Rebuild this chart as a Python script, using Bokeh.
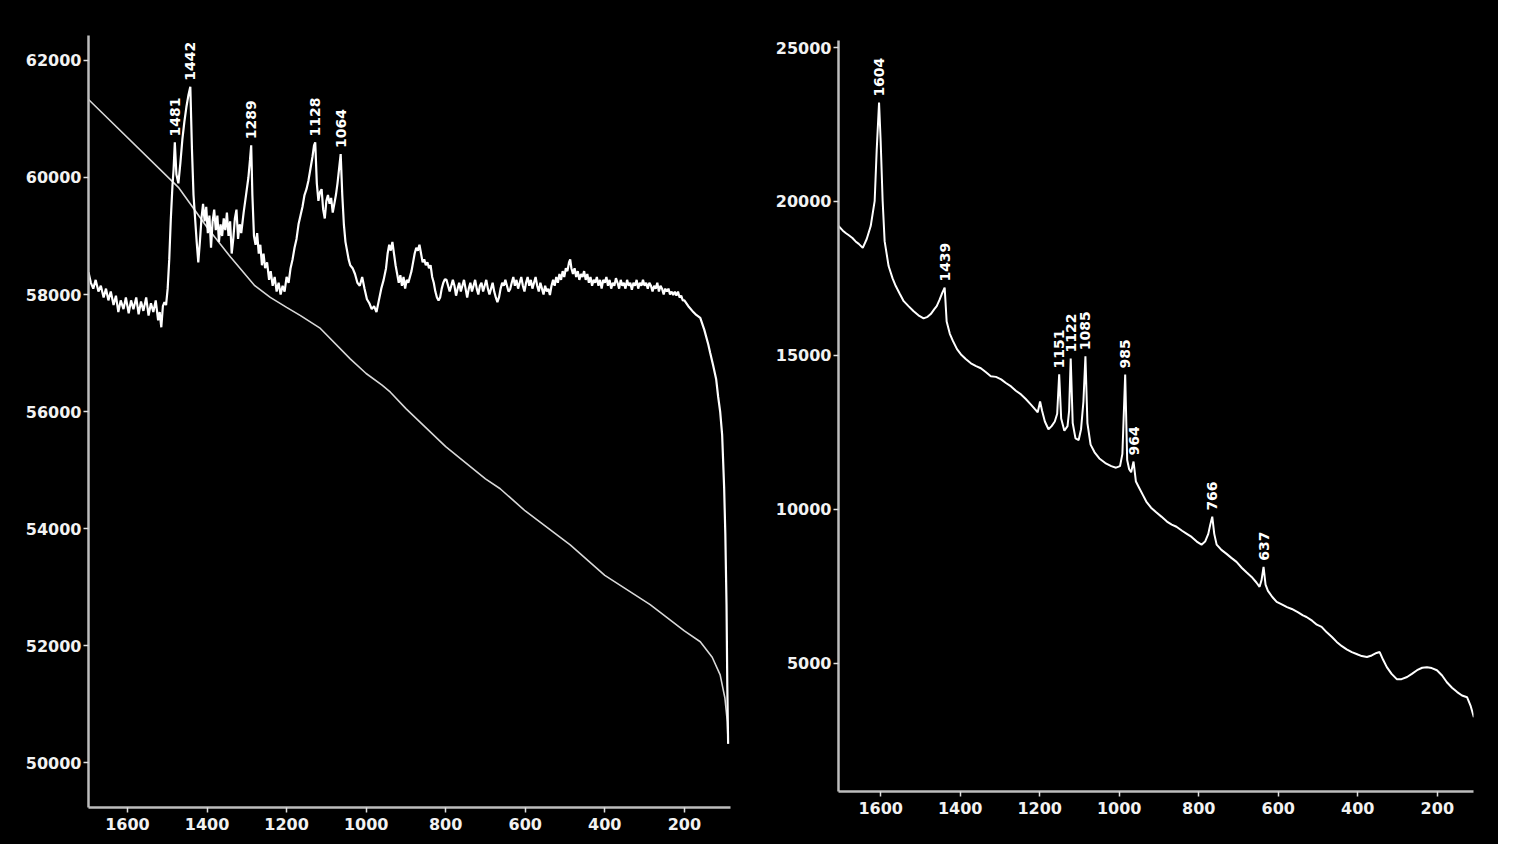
import math
from bokeh.plotting import figure
from bokeh.models import Range1d, FixedTicker, ColumnDataSource
from bokeh.layouts import row
from bokeh.embed import file_html
from bokeh.resources import INLINE
from bokeh.core.properties import value

# ---------------- data: left spectrum ----------------
left_x_ticks = [1600, 1400, 1200, 1000, 800, 600, 400, 200]
left_x_labels = ["1600", "1400", "1200", "1000", "800", "600", "400", "200"]
left_y_ticks = [50000, 52000, 54000, 56000, 58000, 60000, 62000]
left_y_labels = ["50000", "52000", "54000", "56000", "58000", "60000", "62000"]

left_wn = [1698, 1692, 1686, 1680, 1673, 1667, 1660, 1654, 1648, 1642, 1635, 1629, 1623, 1617, 1610, 1604,
           1597, 1591, 1585, 1578, 1572, 1566, 1560, 1553, 1547, 1541, 1535, 1529, 1523, 1519, 1515, 1511,
           1507, 1503, 1499, 1495, 1491, 1487, 1484, 1481, 1477, 1472, 1467, 1462, 1457, 1452, 1447, 1442,
           1438, 1434, 1430, 1426, 1422, 1418, 1414, 1410, 1406, 1402, 1398, 1394, 1390, 1386, 1382, 1378,
           1374, 1370, 1366, 1362, 1358, 1354, 1350, 1346, 1342, 1338, 1334, 1330, 1326, 1322, 1318, 1314,
           1308, 1302, 1296, 1292, 1289, 1286, 1282, 1278, 1274, 1270, 1266, 1262, 1258, 1254, 1249, 1244,
           1240, 1235, 1230, 1225, 1220, 1215, 1210, 1205, 1200, 1195, 1190, 1185, 1180, 1175, 1170, 1165,
           1160, 1155, 1150, 1145, 1140, 1135, 1131, 1128, 1124, 1120, 1116, 1112, 1108, 1104, 1100, 1096,
           1092, 1088, 1084, 1080, 1076, 1072, 1068, 1064, 1060, 1056, 1052, 1048, 1044, 1040, 1034, 1028,
           1022, 1016, 1010, 1004, 998, 992, 986, 980, 974, 968, 962, 956, 950, 946, 942, 938,
           934, 930, 926, 922, 918, 914, 910, 906, 902, 898, 894, 890, 886, 882, 878, 874,
           870, 866, 862, 858, 854, 850, 846, 842, 838, 834, 830, 826, 822, 818, 814, 810,
           806, 802, 798, 794, 790, 786, 782, 778, 774, 770, 766, 762, 758, 754, 750, 746,
           742, 738, 734, 730, 726, 722, 718, 714, 710, 706, 702, 698, 694, 690, 686, 682,
           678, 674, 670, 666, 662, 658, 654, 650, 646, 642, 638, 634, 630, 626, 622, 618,
           614, 610, 606, 602, 598, 594, 590, 586, 582, 578, 574, 570, 566, 562, 558, 554,
           550, 546, 542, 538, 534, 530, 526, 522, 518, 514, 510, 506, 502, 498, 494, 490,
           487, 484, 480, 476, 472, 468, 464, 460, 456, 452, 448, 444, 440, 436, 432, 428,
           424, 420, 416, 412, 408, 404, 400, 396, 392, 388, 384, 380, 376, 372, 368, 364,
           360, 356, 352, 348, 344, 340, 336, 332, 328, 324, 320, 316, 312, 308, 304, 300,
           296, 292, 288, 284, 280, 276, 272, 268, 264, 260, 256, 252, 248, 244, 240, 236,
           232, 228, 224, 220, 216, 212, 208, 204, 200, 190, 180, 170, 160, 150, 140, 135,
           128, 120, 115, 110, 105, 100, 97, 94, 92, 90]
left_int = [58380, 58200, 58100, 58250, 58050, 58150, 57950, 58100, 57900, 58050, 57820, 57980, 57700, 57900, 57750, 57950,
            57680, 57900, 57750, 57950, 57660, 57880, 57720, 57950, 57640, 57850, 57700, 57900, 57560, 57700, 57440, 57800,
            57870, 57820, 58100, 58600, 59300, 59850, 60150, 60600, 60050, 59900, 60250, 60650, 60950, 61200, 61400, 61550,
            60500, 59700, 59300, 58900, 58550, 58900, 59300, 59550, 59250, 59500, 59050, 59350, 58800, 59250, 59450, 59100,
            59350, 58900, 59200, 59000, 59300, 59100, 59400, 59000, 59250, 58700, 58950, 59300, 59450, 58950, 59200, 59050,
            59400, 59700, 60000, 60300, 60550, 59700, 59000, 58850, 59050, 58700, 58850, 58500, 58700, 58450, 58550, 58250,
            58400, 58150, 58300, 58050, 58200, 58000, 58150, 58050, 58300, 58200, 58450, 58600, 58800, 58950, 59200, 59350,
            59500, 59700, 59800, 59950, 60150, 60350, 60550, 60600, 59900, 59600, 59750, 59800, 59450, 59300, 59600, 59700,
            59550, 59650, 59400, 59550, 59700, 59900, 60150, 60400, 59700, 59200, 58900, 58750, 58600, 58500, 58450, 58350,
            58200, 58150, 58300, 58100, 57920, 57850, 57750, 57800, 57700, 57900, 58100, 58250, 58450, 58700, 58850, 58750,
            58900, 58700, 58500, 58350, 58200, 58330, 58150, 58300, 58100, 58250, 58200, 58300, 58400, 58550, 58700, 58800,
            58750, 58850, 58700, 58550, 58600, 58500, 58550, 58450, 58500, 58300, 58200, 58050, 57950, 57900, 57950, 58100,
            58200, 58260, 58250, 58150, 58050, 58150, 58250, 58150, 57980, 58100, 58200, 58050, 58150, 58250, 58100, 57950,
            58100, 58200, 58050, 58150, 58250, 58100, 58000, 58150, 58200, 58050, 58150, 58250, 58100, 58000, 58100, 58200,
            58050, 57950, 57870, 57950, 58100, 58200, 58150, 58250, 58150, 58050, 58090, 58200, 58300, 58150, 58250, 58100,
            58200, 58300, 58150, 58050, 58200, 58300, 58150, 58250, 58100, 58200, 58300, 58150, 58050, 58200, 58100, 58000,
            58150, 58050, 58100, 57990, 58150, 58250, 58150, 58300, 58200, 58350, 58250, 58400, 58300, 58450, 58400, 58550,
            58600, 58450, 58350, 58450, 58300, 58400, 58250, 58350, 58300, 58400, 58250, 58350, 58200, 58300, 58150, 58250,
            58200, 58300, 58150, 58250, 58100, 58250, 58200, 58300, 58150, 58250, 58100, 58200, 58150, 58280, 58200, 58100,
            58250, 58150, 58200, 58100, 58250, 58150, 58200, 58080, 58200, 58150, 58250, 58100, 58200, 58150, 58250, 58150,
            58200, 58100, 58200, 58150, 58050, 58150, 58100, 58200, 58050, 58150, 58100, 58000, 58100, 58050, 58100, 58000,
            58050, 57990, 58050, 57980, 58050, 57950, 57980, 57900, 57900, 57800, 57720, 57650, 57600, 57400, 57150, 57000,
            56800, 56550, 56250, 56000, 55600, 54700, 53900, 52700, 51300, 50320]

left_base_wn = [1698, 1472, 1400, 1341, 1280, 1241, 1200, 1165, 1115, 1040, 1000, 960, 939, 900, 800, 700,
                663, 600, 487, 400, 286, 200, 160, 130, 110, 98, 92, 90]
left_base_int = [61334, 59832, 59150, 58640, 58150, 57950, 57780, 57640, 57420, 56900, 56650, 56450, 56330, 56050, 55400, 54850,
                 54680, 54300, 53720, 53200, 52700, 52250, 52065, 51800, 51500, 51100, 50700, 50320]

left_peak_wn = [1481, 1442, 1289, 1128, 1064]
left_peak_int = [60600, 61550, 60550, 60600, 60400]
left_peak_text = ["1481", "1442", "1289", "1128", "1064"]

# ---------------- data: right spectrum ----------------
right_x_ticks = [1600, 1400, 1200, 1000, 800, 600, 400, 200]
right_x_labels = ["1600", "1400", "1200", "1000", "800", "600", "400", "200"]
right_y_ticks = [5000, 10000, 15000, 20000, 25000]
right_y_labels = ["5000", "10000", "15000", "20000", "25000"]

right_wn = [1706, 1695, 1688, 1680, 1671, 1663, 1655, 1645, 1635, 1625, 1615, 1610, 1604, 1600, 1595, 1590,
            1580, 1570, 1562, 1552, 1542, 1530, 1517, 1505, 1492, 1482, 1474, 1465, 1459, 1452, 1446, 1439,
            1434, 1426, 1418, 1408, 1398, 1386, 1373, 1360, 1348, 1335, 1323, 1310, 1297, 1285, 1272, 1260,
            1247, 1235, 1222, 1212, 1205, 1199, 1194, 1187, 1178, 1170, 1162, 1156, 1151, 1146, 1138, 1130,
            1126, 1122, 1117, 1110, 1102, 1096, 1090, 1085, 1080, 1072, 1062, 1050, 1035, 1020, 1008, 998,
            992, 985, 980, 975, 970, 964, 958, 950, 940, 932, 920, 907, 894, 880, 868, 856,
            842, 830, 818, 805, 793, 784, 776, 771, 766, 761, 755, 743, 730, 718, 705, 692,
            680, 667, 655, 647, 642, 637, 632, 626, 615, 604, 590, 578, 566, 550, 538, 529,
            515, 503, 491, 478, 465, 453, 440, 428, 415, 400, 390, 377, 365, 353, 345, 336,
            327, 315, 302, 290, 276, 264, 251, 238, 226, 214, 201, 188, 176, 163, 150, 138,
            125, 116, 108]
right_int = [19200, 19050, 18975, 18900, 18810, 18700, 18620, 18490, 18780, 19200, 20020, 21650, 23210, 21970, 20020, 18710,
             17900, 17500, 17250, 17000, 16760, 16600, 16430, 16300, 16200, 16250, 16340, 16500, 16600, 16800, 17000, 17200,
             16100, 15700, 15460, 15200, 15030, 14880, 14740, 14650, 14580, 14450, 14320, 14300, 14220, 14100, 13990, 13850,
             13730, 13580, 13400, 13250, 13150, 13500, 13200, 12850, 12600, 12700, 12850, 13100, 14380, 12950, 12550, 12700,
             13200, 14900, 12800, 12300, 12250, 12600, 13500, 14970, 12800, 12100, 11850, 11650, 11500, 11400, 11350, 11400,
             11800, 14380, 11600, 11300, 11200, 11550, 10900, 10700, 10450, 10250, 10050, 9900, 9760, 9600, 9500, 9430,
             9300, 9200, 9100, 8950, 8850, 8950, 9200, 9500, 9760, 9200, 8850, 8680, 8550, 8420, 8290, 8100,
             7950, 7800, 7620, 7480, 7700, 8130, 7550, 7350, 7150, 6990, 6900, 6820, 6760, 6650, 6550, 6500,
             6380, 6250, 6180, 6000, 5850, 5690, 5550, 5450, 5360, 5280, 5230, 5200, 5250, 5330, 5360, 5100,
             4870, 4650, 4480, 4480, 4550, 4650, 4770, 4850, 4870, 4840, 4770, 4600, 4380, 4200, 4060, 3950,
             3890, 3600, 3240]

right_peak_wn = [1604, 1439, 1151, 1122, 1085, 985, 964, 766, 637]
right_peak_int = [23210, 17200, 14380, 14900, 14970, 14380, 11550, 9760, 8130]
right_peak_text = ["1604", "1439", "1151", "1122", "1085", "985", "964", "766", "637"]

FONT = "DejaVu Sans"


def style(p, xt, xl, yt, yl):
    p.background_fill_color = "black"
    p.border_fill_color = "black"
    p.outline_line_color = None
    p.grid.grid_line_color = None
    p.frame_align = False
    p.xaxis.ticker = FixedTicker(ticks=xt)
    p.xaxis.major_label_overrides = {t: s for t, s in zip(xt, xl)}
    p.yaxis.ticker = FixedTicker(ticks=yt)
    p.yaxis.major_label_overrides = {t: s for t, s in zip(yt, yl)}
    for ax in p.axis:
        ax.axis_line_color = "#bdbdbd"
        ax.axis_line_width = 2.5
        ax.major_tick_line_color = "#e0e0e0"
        ax.major_tick_line_width = 1.5
        ax.major_tick_out = 5
        ax.major_tick_in = 0
        ax.minor_tick_line_color = None
        ax.major_label_text_color = "#f2f2f2"
        ax.major_label_text_font = FONT
        ax.major_label_text_font_size = "16px"
        ax.major_label_text_font_style = "bold"
    p.yaxis.major_label_standoff = 2
    p.xaxis.major_label_standoff = 5


# ---------------- left figure ----------------
p1 = figure(width=760, height=844, output_backend="svg", toolbar_location=None,
            x_range=Range1d(1698, 84), y_range=Range1d(49232, 62427),
            min_border_left=88, min_border_right=30, min_border_top=35, min_border_bottom=37)
style(p1, left_x_ticks, left_x_labels, left_y_ticks, left_y_labels)
p1.line(left_base_wn, left_base_int, line_color="#d8d8d8", line_width=1.6)
p1.line(left_wn, left_int, line_color="white", line_width=2.2)
src1 = ColumnDataSource(dict(x=left_peak_wn, y=left_peak_int, t=left_peak_text))
p1.text(x="x", y="y", text="t", source=src1, angle=math.pi / 2, text_align="left",
        text_baseline="middle", y_offset=-6, text_color="white",
        text_font=value(FONT), text_font_size="14px", text_font_style="bold")

# ---------------- right figure ----------------
p2 = figure(width=738, height=844, output_backend="svg", toolbar_location=None,
            x_range=Range1d(1706, 109), y_range=Range1d(830, 25228),
            min_border_left=78, min_border_right=25, min_border_top=40, min_border_bottom=53)
style(p2, right_x_ticks, right_x_labels, right_y_ticks, right_y_labels)
p2.line(right_wn, right_int, line_color="white", line_width=2.0)
src2 = ColumnDataSource(dict(x=right_peak_wn, y=right_peak_int, t=right_peak_text))
p2.text(x="x", y="y", text="t", source=src2, angle=math.pi / 2, text_align="left",
        text_baseline="middle", y_offset=-6, text_color="white",
        text_font=value(FONT), text_font_size="14px", text_font_style="bold")

layout = row(p1, p2, styles={"background-color": "black"})
open("out.html", "w").write(file_html(layout, INLINE))
